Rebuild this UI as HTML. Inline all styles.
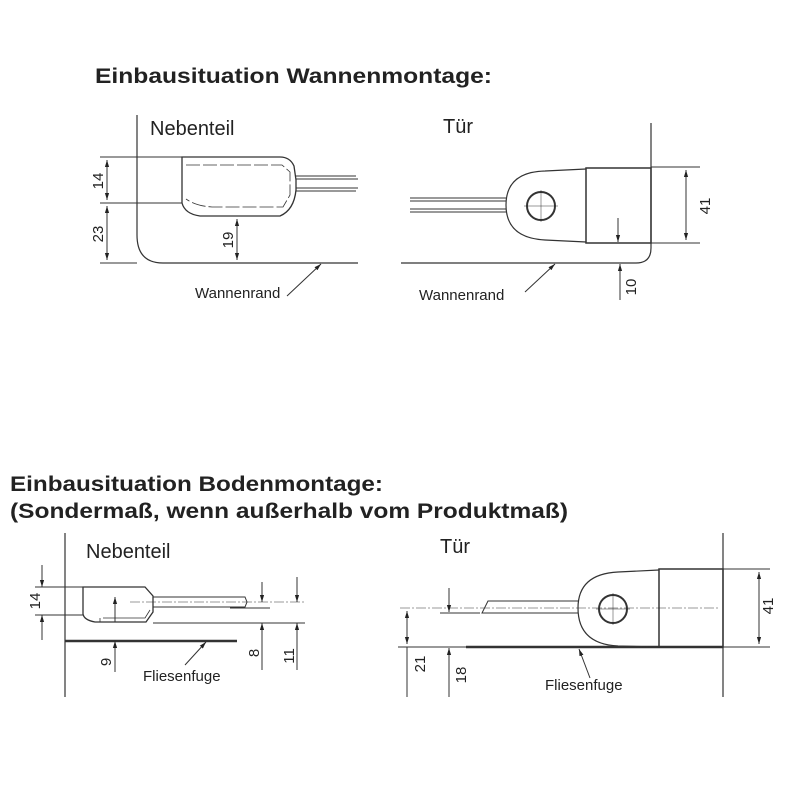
<!DOCTYPE html>
<html><head><meta charset="utf-8"><style>
html,body{margin:0;padding:0;background:#fff;}
svg{display:block;}
text{font-family:"Liberation Sans",sans-serif;fill:#222;}
.t{font-weight:bold;font-size:21px;}
.l{font-size:20px;}
.s{font-size:15px;}
.d{font-size:15px;}
</style></head><body>
<svg width="800" height="800" viewBox="0 0 800 800" xmlns="http://www.w3.org/2000/svg">
<defs>
<marker id="a" viewBox="0 0 10 10" refX="10" refY="5" markerWidth="7" markerHeight="7" orient="auto-start-reverse"><path d="M0,2 L10,5 L0,8 z" fill="#222"/></marker>
</defs>
<text class="t" x="95" y="83" textLength="397" lengthAdjust="spacingAndGlyphs">Einbausituation Wannenmontage:</text>
<text class="t" x="10" y="491" textLength="373" lengthAdjust="spacingAndGlyphs">Einbausituation Bodenmontage:</text>
<text class="t" x="10" y="518" textLength="558" lengthAdjust="spacingAndGlyphs">(Sondermaß, wenn außerhalb vom Produktmaß)</text>

<g stroke="#333" fill="none" stroke-width="1">
<!-- TOP LEFT -->
<path d="M137,115 V235 Q137,263 163,263 H358" stroke-width="1.2"/>
<path d="M182,157 H280 Q290,157 294,166 L296,180 L296,190 Q294,210 280,216 H200 Q185,214 182,203 Z" stroke-width="1.3"/>
<path d="M186,165 H282 L290,172 V195 L283,207 H212 Q196,206 186,199" stroke-dasharray="14,3" stroke-width="0.8"/>
<path d="M296,176 H356 M296,179 H358 M296,188 H358 M296,191 H356"/>
<path d="M100,157 H182 M100,203 H182 M100,263 H137"/>
<line x1="107" y1="160" x2="107" y2="200" marker-start="url(#a)" marker-end="url(#a)"/>
<line x1="107" y1="206" x2="107" y2="260" marker-start="url(#a)" marker-end="url(#a)"/>
<line x1="237" y1="219" x2="237" y2="260" marker-start="url(#a)" marker-end="url(#a)"/>
<line x1="287" y1="296" x2="321" y2="264" marker-end="url(#a)"/>

<!-- TOP RIGHT -->
<path d="M651,123 V248 Q651,263 636,263 H401" stroke-width="1.2"/>
<path d="M586,168 H651 V243 H586 Z" stroke-width="1.5"/>
<path d="M586,169 L545,171 Q506,172 506,205 Q506,238 545,240 L586,242" stroke-width="1.2"/>
<circle cx="541" cy="206" r="14" stroke-width="2"/>
<path d="M524,206 H558 M541,190 V222" stroke-width="0.5"/>
<path d="M410,198 H506 M410,201 H506 M410,209 H506 M410,212 H506"/>
<path d="M651,167 H700 M651,243 H700"/>
<line x1="686" y1="170" x2="686" y2="240" marker-start="url(#a)" marker-end="url(#a)"/>
<line x1="618" y1="218" x2="618" y2="242" marker-end="url(#a)"/>
<line x1="620" y1="300" x2="620" y2="264" marker-end="url(#a)"/>
<line x1="525" y1="292" x2="555" y2="264" marker-end="url(#a)"/>

<!-- BOTTOM LEFT -->
<path d="M65,533 V697" stroke-width="1.2"/>
<path d="M65,641 H237" stroke-width="2.5"/>
<path d="M83,587 H145 L153,596 V612 L146,622 H95 Q84,620 83,614 Z" stroke-width="1.3"/>
<path d="M100,622 V618 M103,618 H145 L150,610" stroke-width="0.8"/>
<path d="M153,597 H245 L247,602 L245,607 H153"/>
<path d="M130,602 H305" stroke-dasharray="10,2,2,2" stroke-width="0.6"/>
<path d="M230,608 H270 M153,623 H305"/>
<path d="M35,587 H83 M35,615 H83"/>
<line x1="42" y1="565" x2="42" y2="587" marker-end="url(#a)"/>
<line x1="42" y1="640" x2="42" y2="615" marker-end="url(#a)"/>
<line x1="262" y1="582" x2="262" y2="602" marker-end="url(#a)"/>
<line x1="262" y1="670" x2="262" y2="623" marker-end="url(#a)"/>
<line x1="297" y1="577" x2="297" y2="602" marker-end="url(#a)"/>
<line x1="297" y1="670" x2="297" y2="623" marker-end="url(#a)"/>
<line x1="115" y1="597" x2="115" y2="622" marker-start="url(#a)"/>
<line x1="115" y1="672" x2="115" y2="641" marker-end="url(#a)"/>
<line x1="185" y1="665" x2="206" y2="642" marker-end="url(#a)"/>

<!-- BOTTOM RIGHT -->
<path d="M723,533 V697" stroke-width="1.2"/>
<path d="M466,647 H723" stroke-width="2.5"/>
<path d="M398,647 H466"/>
<path d="M659,569 H723 V647 H659 Z" stroke-width="1.5"/>
<path d="M659,570 L618,572 Q578,574 578,608 Q578,644 618,646 L659,647" stroke-width="1.2"/>
<circle cx="613" cy="609" r="14" stroke-width="2"/>
<path d="M596,609 H630 M613,593 V625" stroke-width="0.5"/>
<path d="M578,601 H488 L482,613 H578"/>
<path d="M400,608 H720" stroke-dasharray="10,2,2,2" stroke-width="0.6"/>
<path d="M440,613 H480"/>
<path d="M723,569 H770 M723,647 H770"/>
<line x1="759" y1="572" x2="759" y2="644" marker-start="url(#a)" marker-end="url(#a)"/>
<line x1="407" y1="611" x2="407" y2="644" marker-start="url(#a)" marker-end="url(#a)"/>
<line x1="407" y1="647" x2="407" y2="697"/>
<line x1="449" y1="588" x2="449" y2="612" marker-end="url(#a)"/>
<line x1="449" y1="697" x2="449" y2="648" marker-end="url(#a)"/>
<line x1="590" y1="678" x2="579" y2="649" marker-end="url(#a)"/>
</g>

<text class="l" x="150" y="135">Nebenteil</text>
<text class="l" x="443" y="133">Tür</text>
<text class="l" x="86" y="558">Nebenteil</text>
<text class="l" x="440" y="553">Tür</text>
<text class="s" x="195" y="298">Wannenrand</text>
<text class="s" x="419" y="300">Wannenrand</text>
<text class="s" x="143" y="681">Fliesenfuge</text>
<text class="s" x="545" y="690">Fliesenfuge</text>

<text class="d" transform="translate(103,181) rotate(-90)" text-anchor="middle">14</text>
<text class="d" transform="translate(103,234) rotate(-90)" text-anchor="middle">23</text>
<text class="d" transform="translate(233,240) rotate(-90)" text-anchor="middle">19</text>
<text class="d" transform="translate(710,206) rotate(-90)" text-anchor="middle">41</text>
<text class="d" transform="translate(636,287) rotate(-90)" text-anchor="middle">10</text>
<text class="d" transform="translate(40,601) rotate(-90)" text-anchor="middle">14</text>
<text class="d" transform="translate(111,662) rotate(-90)" text-anchor="middle">9</text>
<text class="d" transform="translate(259,653) rotate(-90)" text-anchor="middle">8</text>
<text class="d" transform="translate(294,656) rotate(-90)" text-anchor="middle">11</text>
<text class="d" transform="translate(773,606) rotate(-90)" text-anchor="middle">41</text>
<text class="d" transform="translate(425,664) rotate(-90)" text-anchor="middle">21</text>
<text class="d" transform="translate(466,675) rotate(-90)" text-anchor="middle">18</text>
</svg>
</body></html>
